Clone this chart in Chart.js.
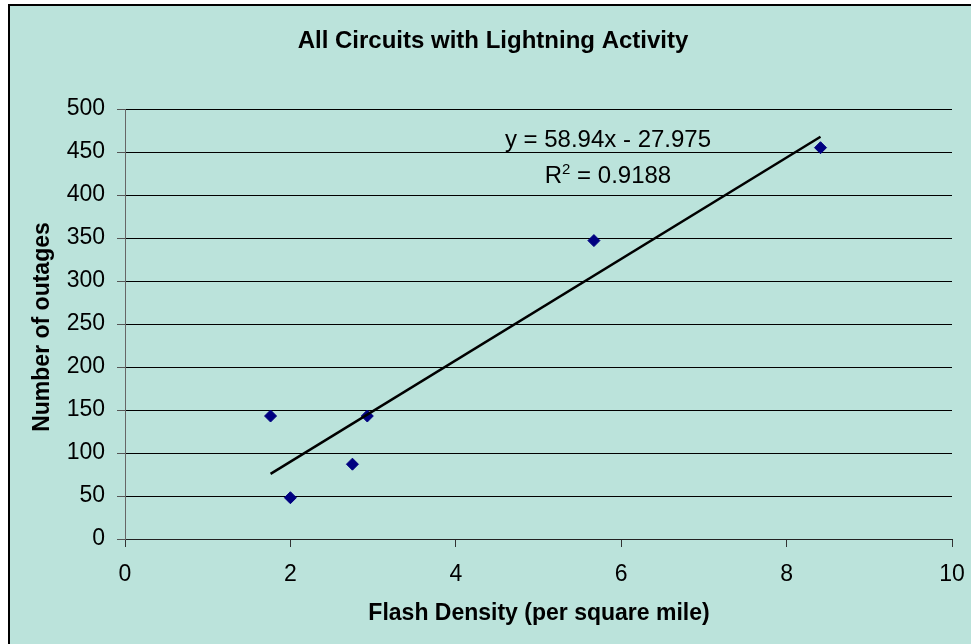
<!DOCTYPE html>
<html>
<head>
<meta charset="utf-8">
<title>All Circuits with Lightning Activity</title>
<script src="https://cdn.jsdelivr.net/npm/chart.js@4/dist/chart.umd.min.js"></script>
<style>
  html, body { margin: 0; padding: 0; background: #ffffff; }
  canvas { display: block; }
</style>
</head>
<body>
<canvas id="chart" width="971" height="644"></canvas>
<script>
// Circuit observations: lightning flash density vs. number of outages
const flashDensity = [1.76, 2.00, 2.75, 2.93, 5.67, 8.41];
const outages      = [143, 48, 87, 143, 347, 455];

// Linear trend line as reported: y = 58.94x - 27.975, R^2 = 0.9188
const trendSlope = 58.94;
const trendIntercept = -27.975;
const rSquared = 0.9188;

// Axis ranges and tick spacing
const xTickValues = [0, 2, 4, 6, 8, 10];
const yTickValues = [0, 50, 100, 150, 200, 250, 300, 350, 400, 450, 500];

const titleText = 'All Circuits with Lightning Activity';
const xTitleText = 'Flash Density (per square mile)';
const yTitleText = 'Number of outages';

const FONT = "'Liberation Sans', Arial, Helvetica, sans-serif";
const BG = '#bbe3db';

const points = flashDensity.map((x, i) => ({ x: x, y: outages[i] }));
const xMin = Math.min(...flashDensity);
const xMax = Math.max(...flashDensity);
const trendPoints = [xMin, xMax].map(x => ({ x: x, y: trendSlope * x + trendIntercept }));

// Panel background with a dark frame on the left and top edges
const panelBackground = {
  id: 'panelBackground',
  beforeDraw(chart) {
    const ctx = chart.ctx;
    ctx.save();
    ctx.fillStyle = '#ffffff';
    ctx.fillRect(0, 0, chart.width, chart.height);
    ctx.fillStyle = BG;
    ctx.fillRect(8, 4, chart.width - 8, chart.height - 4);
    ctx.fillStyle = '#000000';
    ctx.fillRect(8, 4, chart.width - 8, 2);
    ctx.fillRect(8, 4, 2, chart.height - 4);
    ctx.restore();
  }
};

// Chart title, axis titles and the trend-line equation
const textLayer = {
  id: 'textLayer',
  afterDraw(chart) {
    const ctx = chart.ctx;
    const xs = chart.scales.x, ys = chart.scales.y;
    ctx.save();
    ctx.fillStyle = '#000000';
    ctx.textBaseline = 'alphabetic';
    ctx.textAlign = 'center';

    ctx.font = 'bold 24px ' + FONT;
    ctx.fillText(titleText, 493, 48);

    ctx.font = 'bold 23px ' + FONT;
    ctx.fillText(xTitleText, 539, 620);

    ctx.save();
    ctx.translate(49, 327);
    ctx.rotate(-Math.PI / 2);
    ctx.fillText(yTitleText, 0, 0);
    ctx.restore();

    // Equation, anchored in data coordinates near the upper end of the line
    const cx = xs.getPixelForValue(5.84);
    const baseY = ys.getPixelForValue(456);
    ctx.font = '24px ' + FONT;
    ctx.fillText('y = ' + trendSlope + 'x - ' + Math.abs(trendIntercept), cx, baseY);

    const r = 'R', sup = '2', rest = ' = ' + rSquared;
    ctx.font = '24px ' + FONT;
    const wR = ctx.measureText(r).width;
    const wRest = ctx.measureText(rest).width;
    ctx.font = '15px ' + FONT;
    const wSup = ctx.measureText(sup).width;
    let left = cx - (wR + wSup + wRest) / 2;
    const y2 = baseY + 36;
    ctx.textAlign = 'left';
    ctx.font = '24px ' + FONT;
    ctx.fillText(r, left, y2);
    ctx.font = '15px ' + FONT;
    ctx.fillText(sup, left + wR, y2 - 9);
    ctx.font = '24px ' + FONT;
    ctx.fillText(rest, left + wR + wSup, y2);
    ctx.restore();
  }
};

new Chart(document.getElementById('chart'), {
  type: 'scatter',
  data: {
    datasets: [
      {
        label: 'Outages',
        data: points,
        pointStyle: 'rectRot',
        pointRadius: 6,
        pointHoverRadius: 6,
        backgroundColor: '#000080',
        borderColor: '#000080',
        borderWidth: 1,
        order: 1
      },
      {
        label: 'Linear trend',
        data: trendPoints,
        showLine: true,
        borderColor: '#000000',
        borderWidth: 2.5,
        pointRadius: 0,
        pointHoverRadius: 0,
        fill: false,
        order: 0
      }
    ]
  },
  options: {
    responsive: false,
    animation: false,
    events: [],
    layout: { padding: { top: 109, left: 10, right: 19, bottom: 0 } },
    plugins: {
      legend: { display: false },
      tooltip: { enabled: false },
      title: { display: false }
    },
    scales: {
      x: {
        type: 'linear',
        min: 0,
        max: 10,
        afterBuildTicks(scale) { scale.ticks = xTickValues.map(v => ({ value: v })); },
        afterFit(scale) {
          scale.height = 105;
          scale.paddingLeft = 0;
          scale.paddingRight = 0;
        },
        ticks: {
          color: '#000000',
          font: { family: FONT, size: 23 },
          padding: 14,
          maxRotation: 0
        },
        grid: {
          drawOnChartArea: false,
          drawTicks: true,
          tickLength: 8,
          tickColor: '#333333'
        },
        border: { display: true, color: '#222222', width: 1 }
      },
      y: {
        type: 'linear',
        min: 0,
        max: 500,
        afterBuildTicks(scale) { scale.ticks = yTickValues.map(v => ({ value: v })); },
        afterFit(scale) {
          scale.width = 115;
          scale.paddingTop = 0;
          scale.paddingBottom = 0;
        },
        ticks: {
          color: '#000000',
          font: { family: FONT, size: 23 },
          padding: 12
        },
        grid: {
          color: '#000000',
          lineWidth: 1,
          drawTicks: true,
          tickLength: 8,
          tickColor: '#555555'
        },
        border: { display: true, color: '#666666', width: 1 }
      }
    }
  },
  plugins: [panelBackground, textLayer]
});
</script>
</body>
</html>
